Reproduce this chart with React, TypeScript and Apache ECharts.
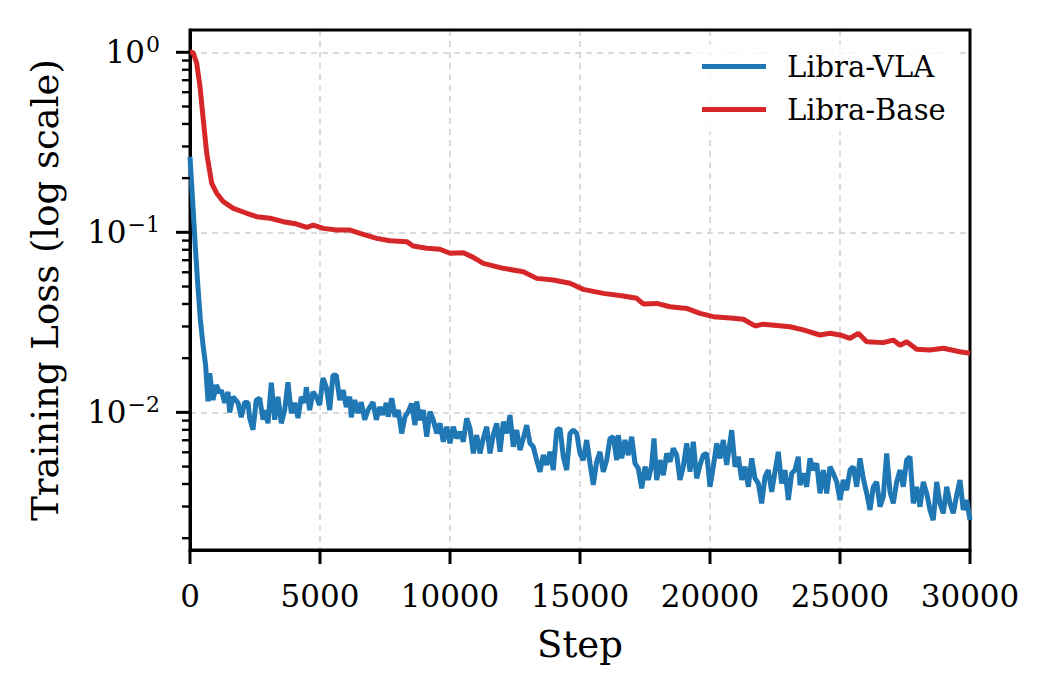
import React, { useEffect, useRef } from 'react';
import * as echarts from 'echarts';

// Libra-VLA: steps and loss
const vlaSteps = [
    0, 100, 200, 300, 400, 500, 600, 692, 758, 885, 1012, 1142, 1204, 1335, 1462, 1527, 1654, 1846, 1973, 2104,
    2231, 2296, 2423, 2550, 2681, 2808, 2873, 3000, 3127, 3258, 3385, 3512, 3642, 3769, 3896, 4027, 4154, 4281, 4412, 4473,
    4604, 4731, 4858, 4988, 5115, 5242, 5373, 5500, 5627, 5758, 5885, 6012, 6142, 6204, 6335, 6462, 6588, 6719, 6846, 7038,
    7165, 7296, 7423, 7550, 7627, 7758, 7885, 8011, 8142, 8269, 8396, 8527, 8654, 8719, 8846, 8973, 9104, 9231, 9358, 9488,
    9615, 9742, 9873, 10000, 10127, 10258, 10385, 10512, 10642, 10769, 10896, 11027, 11154, 11281, 11412, 11538, 11665, 11796, 11923, 12050,
    12181, 12308, 12435, 12565, 12692, 12819, 12950, 13077, 13204, 13334, 13461, 13588, 13719, 13846, 13973, 14104, 14231, 14358, 14488, 14615,
    14742, 14873, 15000, 15127, 15258, 15385, 15511, 15642, 15769, 15896, 16027, 16154, 16281, 16411, 16473, 16604, 16731, 16858, 16988, 17115,
    17242, 17373, 17500, 17627, 17758, 17846, 17950, 18077, 18204, 18335, 18462, 18588, 18719, 18846, 18973, 19104, 19231, 19358, 19488, 19615,
    19742, 19873, 20000, 20127, 20258, 20385, 20512, 20642, 20835, 20962, 21088, 21219, 21346, 21473, 21604, 21731, 21858, 21988, 22115, 22242,
    22373, 22500, 22627, 22754, 22885, 23012, 23142, 23269, 23396, 23462, 23588, 23719, 23846, 23973, 24104, 24231, 24358, 24488, 24615, 24742,
    24873, 25000, 25127, 25258, 25385, 25511, 25642, 25769, 25896, 26027, 26154, 26281, 26411, 26538, 26665, 26796, 26923, 27050, 27180, 27308,
    27434, 27565, 27692, 27819, 27950, 28077, 28204, 28335, 28462, 28588, 28719, 28846, 28973, 29104, 29231, 29358, 29488, 29615, 29742, 29873,
    30000,
];
const vlaLoss = [
    0.263, 0.151, 0.085, 0.051, 0.0326, 0.0237, 0.0183, 0.0115, 0.0165, 0.0117, 0.0142, 0.0128, 0.0133, 0.0113, 0.0130, 0.0100, 0.0122, 0.0113, 0.0094, 0.0114,
    0.0113, 0.0093, 0.0080, 0.0117, 0.0120, 0.0091, 0.0103, 0.0087, 0.0146, 0.0091, 0.0122, 0.0087, 0.0103, 0.0147, 0.0099, 0.0113, 0.0093, 0.0122, 0.0113, 0.0138,
    0.0103, 0.0130, 0.0122, 0.0110, 0.0155, 0.0138, 0.0103, 0.0161, 0.0161, 0.0117, 0.0133, 0.0107, 0.0122, 0.0094, 0.0117, 0.0099, 0.0114, 0.0091, 0.0103, 0.0114,
    0.0091, 0.0107, 0.0097, 0.0113, 0.00946, 0.0120, 0.00946, 0.0103, 0.00764, 0.00946, 0.0101, 0.0112, 0.0085, 0.0115, 0.00906, 0.0103, 0.00732, 0.0101, 0.00906, 0.00764,
    0.00869, 0.00687, 0.00832, 0.00673, 0.00832, 0.00717, 0.0078, 0.00687, 0.00927, 0.00815, 0.00592, 0.00748, 0.00592, 0.00717, 0.00832, 0.00592, 0.00748, 0.00869, 0.00604, 0.00887,
    0.00764, 0.00966, 0.00644, 0.00797, 0.00617, 0.00717, 0.0085, 0.00673, 0.00644, 0.00543, 0.00468, 0.00579, 0.0051, 0.00604, 0.00478, 0.00797, 0.00815, 0.00567, 0.00478, 0.00764,
    0.00797, 0.00764, 0.00592, 0.00543, 0.00702, 0.00521, 0.00395, 0.00532, 0.00604, 0.00468, 0.00543, 0.00717, 0.00732, 0.00543, 0.00748, 0.00555, 0.00702, 0.00579, 0.00732, 0.00521,
    0.00489, 0.00378, 0.00499, 0.00421, 0.0051, 0.00717, 0.00421, 0.00543, 0.00448, 0.00592, 0.00532, 0.00631, 0.00579, 0.00421, 0.00499, 0.00673, 0.00468, 0.00687, 0.0043, 0.0051,
    0.00579, 0.00592, 0.00386, 0.00499, 0.00673, 0.00555, 0.00702, 0.0051, 0.00797, 0.00499, 0.00567, 0.00421, 0.00499, 0.00386, 0.00555, 0.0043, 0.00403, 0.00312, 0.00439, 0.00478,
    0.00362, 0.00468, 0.00604, 0.00403, 0.00478, 0.00326, 0.00458, 0.00478, 0.00567, 0.00395, 0.00458, 0.00386, 0.00555, 0.00478, 0.00521, 0.00355, 0.00478, 0.00355, 0.00499, 0.00458,
    0.00411, 0.00326, 0.00421, 0.0037, 0.00478, 0.00499, 0.00386, 0.00555, 0.0043, 0.00355, 0.00287, 0.00386, 0.00411, 0.00299, 0.0034, 0.00592, 0.00362, 0.00312, 0.00411, 0.00478,
    0.00386, 0.00543, 0.00567, 0.00312, 0.00386, 0.00299, 0.00411, 0.00355, 0.00287, 0.00252, 0.00411, 0.00312, 0.00275, 0.00386, 0.00312, 0.00275, 0.00347, 0.00421, 0.00287, 0.00326,
    0.00252,
];

// Libra-Base
const baseSteps = [
    0, 65, 127, 258, 385, 512, 642, 835, 1027, 1281, 1665, 2181, 2565, 3077, 3588, 4104, 4488, 4742, 5127, 5642,
    6154, 6538, 7181, 7692, 8335, 8588, 9104, 9615, 10000, 10512, 10896, 11281, 12050, 12819, 13334, 13973, 14615, 15127, 15896, 16665,
    17181, 17434, 17950, 18461, 19104, 19615, 20127, 20896, 21281, 21731, 22050, 23077, 23588, 24231, 24615, 25000, 25385, 25704, 26027, 26665,
    27050, 27308, 27565, 27950, 28461, 28973, 29615, 30000,
];
const baseLoss = [
    1.0, 1.0, 0.99, 0.869, 0.644, 0.421, 0.275, 0.187, 0.165, 0.148, 0.136, 0.1276, 0.1222, 0.1197, 0.1146, 0.1112, 0.1066, 0.1098, 0.1052, 0.103,
    0.103, 0.0987, 0.0926, 0.0898, 0.0887, 0.0839, 0.0815, 0.0805, 0.0765, 0.077, 0.0726, 0.0672, 0.0631, 0.0604, 0.0555, 0.0543, 0.0521, 0.0482, 0.0458, 0.0443,
    0.043, 0.04, 0.0403, 0.0386, 0.0378, 0.0355, 0.034, 0.0333, 0.0329, 0.0302, 0.0309, 0.0299, 0.0287, 0.0269, 0.0275, 0.0269, 0.0258, 0.0275, 0.0247, 0.0244,
    0.0252, 0.0236, 0.0247, 0.0224, 0.0222, 0.0227, 0.0217, 0.0213,
];

const xTicks = [0, 5000, 10000, 15000, 20000, 25000, 30000];
const yMajor = [0.01, 0.1, 1];
const yMinor = [
    0.002, 0.003, 0.004, 0.005, 0.006, 0.007, 0.008, 0.009,
    0.02, 0.03, 0.04, 0.05, 0.06, 0.07, 0.08, 0.09,
    0.2, 0.3, 0.4, 0.5, 0.6, 0.7, 0.8, 0.9,
];

const FONT = 'DejaVu Serif';

const App: React.FC = () => {
    const chartRef = useRef<HTMLDivElement>(null);

    useEffect(() => {
        document.body.style.margin = '0';
        if (!chartRef.current) return;
        const chart = echarts.init(chartRef.current, undefined, { renderer: 'svg' });

        const option: echarts.EChartsOption = {
            animation: false,
            backgroundColor: '#fff',
            grid: {
                left: 190,
                top: 30,
                width: 780,
                height: 520,
                show: true,
                borderColor: '#000',
                borderWidth: 3,
                z: 3,
            },
            legend: {
                orient: 'vertical',
                left: 694,
                top: 44,
                itemWidth: 64,
                itemHeight: 5,
                itemGap: 14,
                padding: [8, 12, 8, 8],
                backgroundColor: 'rgba(255,255,255,0.8)',
                textStyle: { fontFamily: FONT, fontSize: 29, color: '#000', padding: [0, 0, 0, 16] },
                data: [
                    { name: 'Libra-VLA', icon: 'rect' },
                    { name: 'Libra-Base', icon: 'rect' },
                ],
            },
            xAxis: {
                type: 'value',
                min: 0,
                max: 30000,
                interval: 5000,
                name: 'Step',
                nameLocation: 'middle',
                nameGap: 76,
                nameTextStyle: { fontFamily: FONT, fontSize: 37, color: '#000' },
                axisLine: { show: true, lineStyle: { color: '#000', width: 3 } },
                axisTick: { show: false },
                axisLabel: {
                    margin: 30,
                    fontFamily: FONT,
                    fontSize: 31,
                    color: '#000',
                    formatter: (v: number) => String(v),
                },
                splitLine: { show: true, lineStyle: { color: '#cfcfcf', width: 1.5, type: [6, 5] } },
            },
            yAxis: {
                type: 'log',
                logBase: 10,
                min: 0.00172,
                max: 1.33,
                name: 'Training Loss (log scale)',
                nameLocation: 'middle',
                nameGap: 126,
                nameTextStyle: { fontFamily: FONT, fontSize: 37, color: '#000' },
                axisLine: { show: true, lineStyle: { color: '#000', width: 3 } },
                axisTick: { show: false },
                axisLabel: {
                    customValues: yMajor,
                    margin: 30,
                    color: '#000',
                    formatter: (v: number) => {
                        const e = Math.round(Math.log10(v));
                        return '{b|10}{s|' + (e === 0 ? '0' : '\u2212' + -e) + '}';
                    },
                    rich: {
                        b: { fontFamily: FONT, fontSize: 31, color: '#000' },
                        s: { fontFamily: FONT, fontSize: 22, color: '#000', padding: [0, 0, 15, 1] },
                    },
                },
                splitLine: { show: true, lineStyle: { color: '#cfcfcf', width: 1.5, type: [6, 5] } },
            },
            series: [
                {
                    name: 'Libra-VLA',
                    type: 'line',
                    showSymbol: false,
                    color: '#1f77b4',
                    lineStyle: { width: 5, color: '#1f77b4' },
                    data: vlaSteps.map((s, i) => [s, vlaLoss[i]]),
                    z: 3,
                },
                {
                    name: 'Libra-Base',
                    type: 'line',
                    showSymbol: false,
                    color: '#d62728',
                    lineStyle: { width: 5, color: '#d62728' },
                    data: baseSteps.map((s, i) => [s, baseLoss[i]]),
                    z: 4,
                },
            ],
        };

        chart.setOption(option);

        // outward ticks as small filled bars, placed through the chart's own scales
        const ticks: any[] = [];
        const bottom = (chart.convertToPixel({ gridIndex: 0 }, [0, 0.00172]) as number[])[1];
        xTicks.forEach((v) => {
            const p = chart.convertToPixel({ gridIndex: 0 }, [v, 1]) as number[];
            ticks.push({ type: 'rect', z: 100, shape: { x: p[0] - 1.5, y: bottom, width: 3, height: 14 }, style: { fill: '#000' } });
        });
        yMajor.forEach((v) => {
            const p = chart.convertToPixel({ gridIndex: 0 }, [0, v]) as number[];
            ticks.push({ type: 'rect', z: 100, shape: { x: p[0] - 14, y: p[1] - 1.5, width: 14, height: 3 }, style: { fill: '#000' } });
        });
        yMinor.forEach((v) => {
            const p = chart.convertToPixel({ gridIndex: 0 }, [0, v]) as number[];
            ticks.push({ type: 'rect', z: 100, shape: { x: p[0] - 8, y: p[1] - 1.2, width: 8, height: 2.4 }, style: { fill: '#000' } });
        });
        chart.setOption({ graphic: { elements: ticks } });

        return () => {
            chart.dispose();
        };
    }, []);

    return <div ref={chartRef} style={{ width: '1054px', height: '694px' }} />;
};

export default App;
